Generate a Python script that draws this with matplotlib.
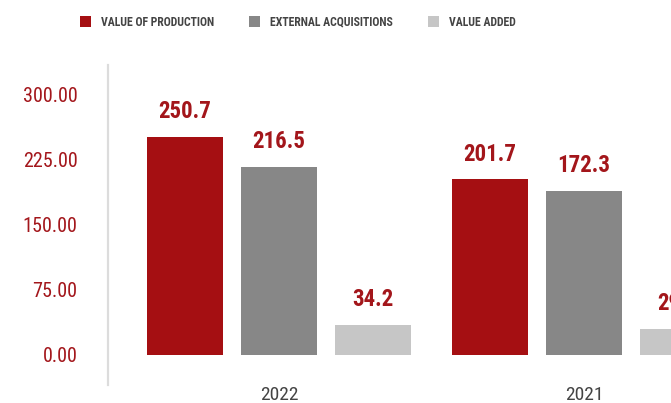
import matplotlib
matplotlib.use("Agg")
import matplotlib.pyplot as plt
import numpy as np
from matplotlib.patches import Patch

# ---- data ----
years = ["2022", "2021"]
series = ["VALUE OF PRODUCTION", "EXTERNAL ACQUISITIONS", "VALUE ADDED"]
value_of_production = [250.7, 201.7]
external_acquisitions = [216.5, 188.0]      # bar heights as drawn
external_labels = ["216.5", "172.3"]        # printed labels
value_added = [34.2, 29.4]
yticks = [0, 75, 150, 225, 300]

colors = ["#a50f12", "#878787", "#c6c6c6"]
red_text = "#a3161b"
dark = "#444444"
FAM = ["Roboto Condensed", "Roboto", "DejaVu Sans"]

W, H = 671, 403
fig = plt.figure(figsize=(W / 100, H / 100), dpi=100)

# axes placement in pixels (left, top, right, bottom)
px_left, px_top, px_right, px_bottom = 108, 65, 755, 385
ax = fig.add_axes([px_left / W, 1 - px_bottom / H,
                   (px_right - px_left) / W, (px_bottom - px_top) / H])

group_step = 3.245
width = 0.81
centers = np.arange(len(years)) * group_step
vals = [value_of_production, external_acquisitions, value_added]
labels = [[f"{v:.1f}" for v in value_of_production],
          external_labels,
          [f"{v:.1f}" for v in value_added]]

for i, (v, c) in enumerate(zip(vals, colors)):
    xs = centers + (i - 1)
    bars = ax.bar(xs, v, width=width, color=c, zorder=2)
    for b, lab in zip(bars, labels[i]):
        ax.annotate(lab, (b.get_x() + b.get_width() / 2, b.get_height()),
                    xytext=(0, 10), textcoords="offset points",
                    ha="center", va="bottom", color=red_text,
                    fontsize=16.5, fontweight="bold", family=FAM,
                    clip_on=False)

ax.set_xlim(-1.819, centers[-1] + 1.819)
ax.set_ylim(-35, 333.5)

ax.set_yticks(yticks)
ax.set_yticklabels([f"{t:.2f}" for t in yticks], color=red_text,
                   fontsize=14.5, family=FAM)
ax.tick_params(axis="y", length=0, pad=22)

ax.set_xticks(centers)
ax.set_xticklabels(years, color=dark, fontsize=14, family=FAM)
ax.tick_params(axis="x", length=0, pad=1)

for s in ["top", "right", "bottom"]:
    ax.spines[s].set_visible(False)
ax.spines["left"].set_color("#dcdcdc")
ax.spines["left"].set_linewidth(1.6)

handles = [Patch(facecolor=c, edgecolor="none") for c in colors]
fig.legend(handles, series, ncol=3, loc="center left",
           bbox_to_anchor=(80 / W, 1 - 22 / H), frameon=False,
           prop={"family": FAM, "weight": "bold", "size": 8.5},
           labelcolor=dark, handlelength=0.95, handleheight=0.95,
           handletextpad=0.8, columnspacing=3.0, borderaxespad=0,
           borderpad=0)

fig.savefig("out.png", dpi=100)
